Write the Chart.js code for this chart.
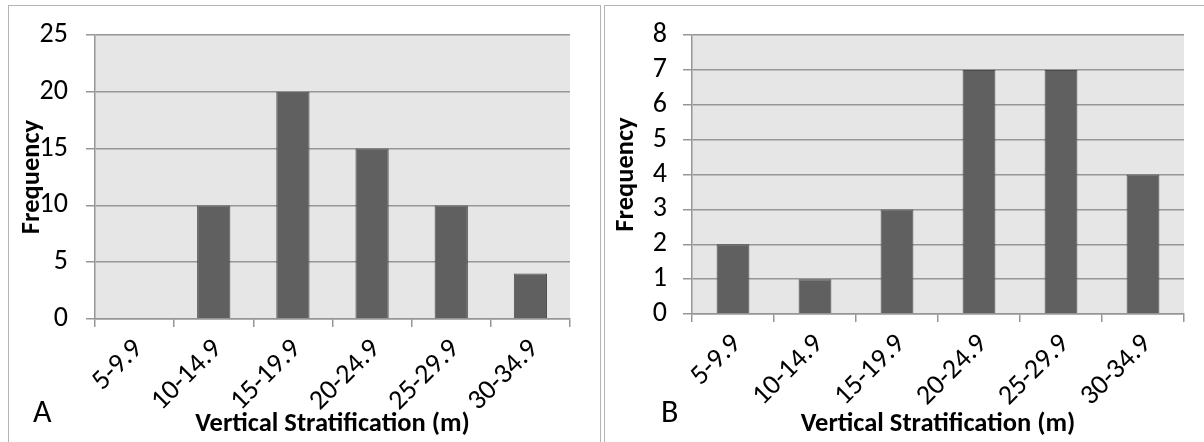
<!DOCTYPE html>
<html>
<head>
<meta charset="utf-8">
<script src="https://cdn.jsdelivr.net/npm/chart.js@4.4.1/dist/chart.umd.min.js"></script>
<style>
  html, body { margin: 0; padding: 0; background: #ffffff; width: 1204px; height: 442px; overflow: hidden; }
  .panel { position: absolute; top: 5px; height: 437px; border: 1px solid #b4b4b4; border-bottom: none; background: #fff; }
  #panelA { left: 8px; width: 591px; }
  #panelB { left: 604px; width: 600px; border-right: none; }
  .panel canvas { position: absolute; left: 0; top: 0; }
  .tag { position: absolute; font-family: Carlito, Lato, sans-serif; font-size: 32px; color: #000; line-height: 1; }
</style>
</head>
<body>
<div class="panel" id="panelA"><canvas id="chartA" width="591" height="436"></canvas><div class="tag" style="left:24px; top:390px;">A</div></div>
<div class="panel" id="panelB"><canvas id="chartB" width="599" height="436"></canvas><div class="tag" style="left:56px; top:390px;">B</div></div>
<script>
// ---- data ----
const categories = ['5-9.9', '10-14.9', '15-19.9', '20-24.9', '25-29.9', '30-34.9'];
const frequencyA = [0, 10, 20, 15, 10, 4];
const frequencyB = [2, 1, 3, 7, 7, 4];
const yMaxA = 25, yStepA = 5;
const yMaxB = 8, yStepB = 1;
const xTitle = 'Vertical Stratification (m)';
const yTitle = 'Frequency';

const FONT = 'Carlito, Lato, sans-serif';
const GRID = '#969696';

const plotBg = {
  id: 'plotBg',
  beforeDraw(chart) {
    const { ctx, chartArea: { left, top, width, height } } = chart;
    ctx.save();
    ctx.fillStyle = '#e6e6e6';
    ctx.fillRect(left, top, width, height);
    ctx.restore();
  }
};

function makeChart(id, values, yMax, yStep, cfg) {
  return new Chart(document.getElementById(id), {
    type: 'bar',
    data: {
      labels: categories,
      datasets: [{
        data: values,
        backgroundColor: '#606060',
        borderColor: '#4a4a4a',
        borderWidth: 1,
        categoryPercentage: 1,
        barPercentage: cfg.barPct
      }]
    },
    options: {
      responsive: false,
      animation: false,
      devicePixelRatio: 1,
      layout: { padding: { left: 0, top: cfg.top, right: cfg.right, bottom: 0 } },
      plugins: { legend: { display: false }, tooltip: { enabled: false } },
      scales: {
        x: {
          grid: { display: true, drawOnChartArea: false, drawTicks: true, tickLength: 8, color: GRID, lineWidth: 1.5, offset: true },
          border: { display: true, color: GRID, width: 1.5 },
          ticks: { color: '#000', font: { family: FONT, size: 28 }, minRotation: 45, maxRotation: 45, autoSkip: false, padding: 6, labelOffset: 4 },
          title: { display: true, text: xTitle, color: '#000', font: { family: FONT, size: 26.5, weight: 'bold' }, padding: { top: 0, bottom: 2 } },
          afterFit(scale) { scale.height = cfg.xh; scale.paddingLeft = 0; scale.paddingRight = 0; }
        },
        y: {
          min: 0, max: yMax,
          grid: { color: GRID, lineWidth: 1.5, drawTicks: true, tickLength: 9 },
          border: { display: true, color: GRID, width: 1.5 },
          ticks: { stepSize: yStep, autoSkip: false, color: '#000', font: { family: FONT, size: 28 }, padding: cfg.ypad },
          title: { display: true, text: yTitle, color: '#000', font: { family: FONT, size: 26.5, weight: 'bold' }, padding: { top: cfg.ytp, bottom: 0 } },
          afterFit(scale) { scale.width = cfg.yw; scale.paddingTop = 0; scale.paddingBottom = 0; }
        }
      }
    },
    plugins: [plotBg]
  });
}

makeChart('chartA', frequencyA, yMaxA, yStepA, { barPct: 0.42, top: 29, right: 30, xh: 123, yw: 86, ypad: 18, ytp: 7 });
makeChart('chartB', frequencyB, yMaxB, yStepB, { barPct: 0.40, top: 29, right: 20, xh: 128, yw: 87, ypad: 16, ytp: 5 });
</script>
</body>
</html>
